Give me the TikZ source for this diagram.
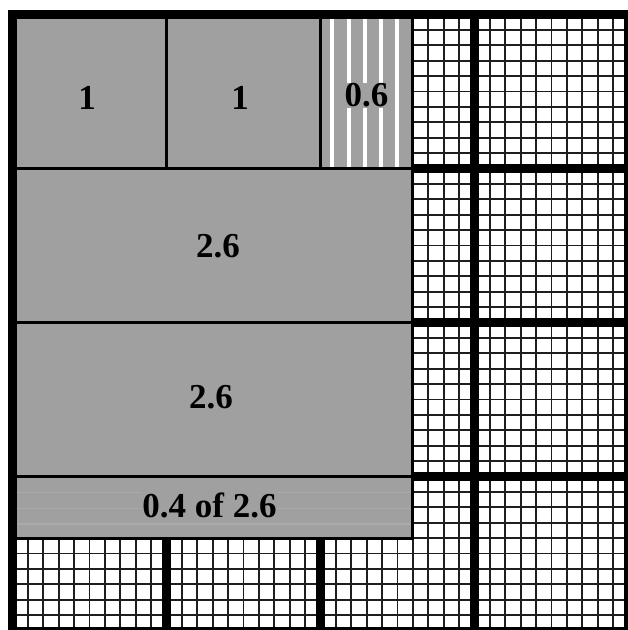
\documentclass[tikz,border=0pt]{standalone}
\usepackage{fontspec}
\setmainfont{Liberation Serif}
\definecolor{regiongray}{RGB}{160,160,160}
\definecolor{faintgray}{RGB}{170,170,170}
\definecolor{subc}{RGB}{30,30,30}
\tikzset{
  subline/.style={draw=subc, line width=1.8},
  thickline/.style={draw=black, line width=8.5},
  region/.style={fill=regiongray, draw=black, line width=3},
  stripe/.style={draw=white, line width=3.2},
  faintline/.style={draw=faintgray, line width=1.4},
  lbl/.style={font=\bfseries\fontsize{35}{38}\selectfont, inner sep=0.5pt},
}
\begin{document}
\begin{tikzpicture}[x=1pt,y=-1pt]
\useasboundingbox (0,0) rectangle (628,630);
\clip (0,0) rectangle (628,630);
\fill[white] (0,0) rectangle (628,630);
% fine grid
\foreach \i in {0,...,40}{
  \draw[subline] ({12.5+\i*15.4},14.5) -- ({12.5+\i*15.4},631.5);
  \draw[subline] (12.5,{14.5+\i*15.4}) -- (628.5,{14.5+\i*15.4});
}
% thick cell boundaries
\foreach \k in {1,2,3}{
  \draw[thickline] ({12.5+\k*154},14.5) -- ({12.5+\k*154},631.5);
  \draw[thickline] (12.5,{14.5+\k*154}) -- (628.5,{14.5+\k*154});
}
% shaded regions
\draw[region] (12.5,14.5) rectangle (166.5,168.5);
\draw[region] (166.5,14.5) rectangle (320.5,168.5);
\fill[regiongray] (320.5,14.5) rectangle (412.9,168.5);
\foreach \s in {332,349,365,381,397}{
  \draw[stripe] (\s,17) -- (\s,167);
}
\draw[black, line width=3] (320.5,14.5) rectangle (412.9,168.5);
\draw[region] (12.5,168.5) rectangle (412.9,322.5);
\draw[region] (12.5,322.5) rectangle (412.9,476.5);
\fill[regiongray] (12.5,476.5) rectangle (412.9,538.1);
\foreach \t in {492.3,508.5,524}{
  \draw[faintline] (17,\t) -- (411,\t);
}
\draw[black, line width=3] (12.5,476.5) rectangle (412.9,538.1);
% labels
\node[lbl] (a) at (87,97.5) {1};
\node[lbl] (b) at (240,97.5) {1};
\node[lbl, fill=regiongray] (c) at (366.5,95.5) {0.6};
\node[lbl] (d) at (218,246) {2.6};
\node[lbl] (e) at (211,397.5) {2.6};
\node[lbl, fill=regiongray] (f) at (209.5,505.5) {0.4 of 2.6};
% outer border
\draw[black, line width=9] (12.5,14.5) rectangle (628.5,631.5);
\end{tikzpicture}
\end{document}
